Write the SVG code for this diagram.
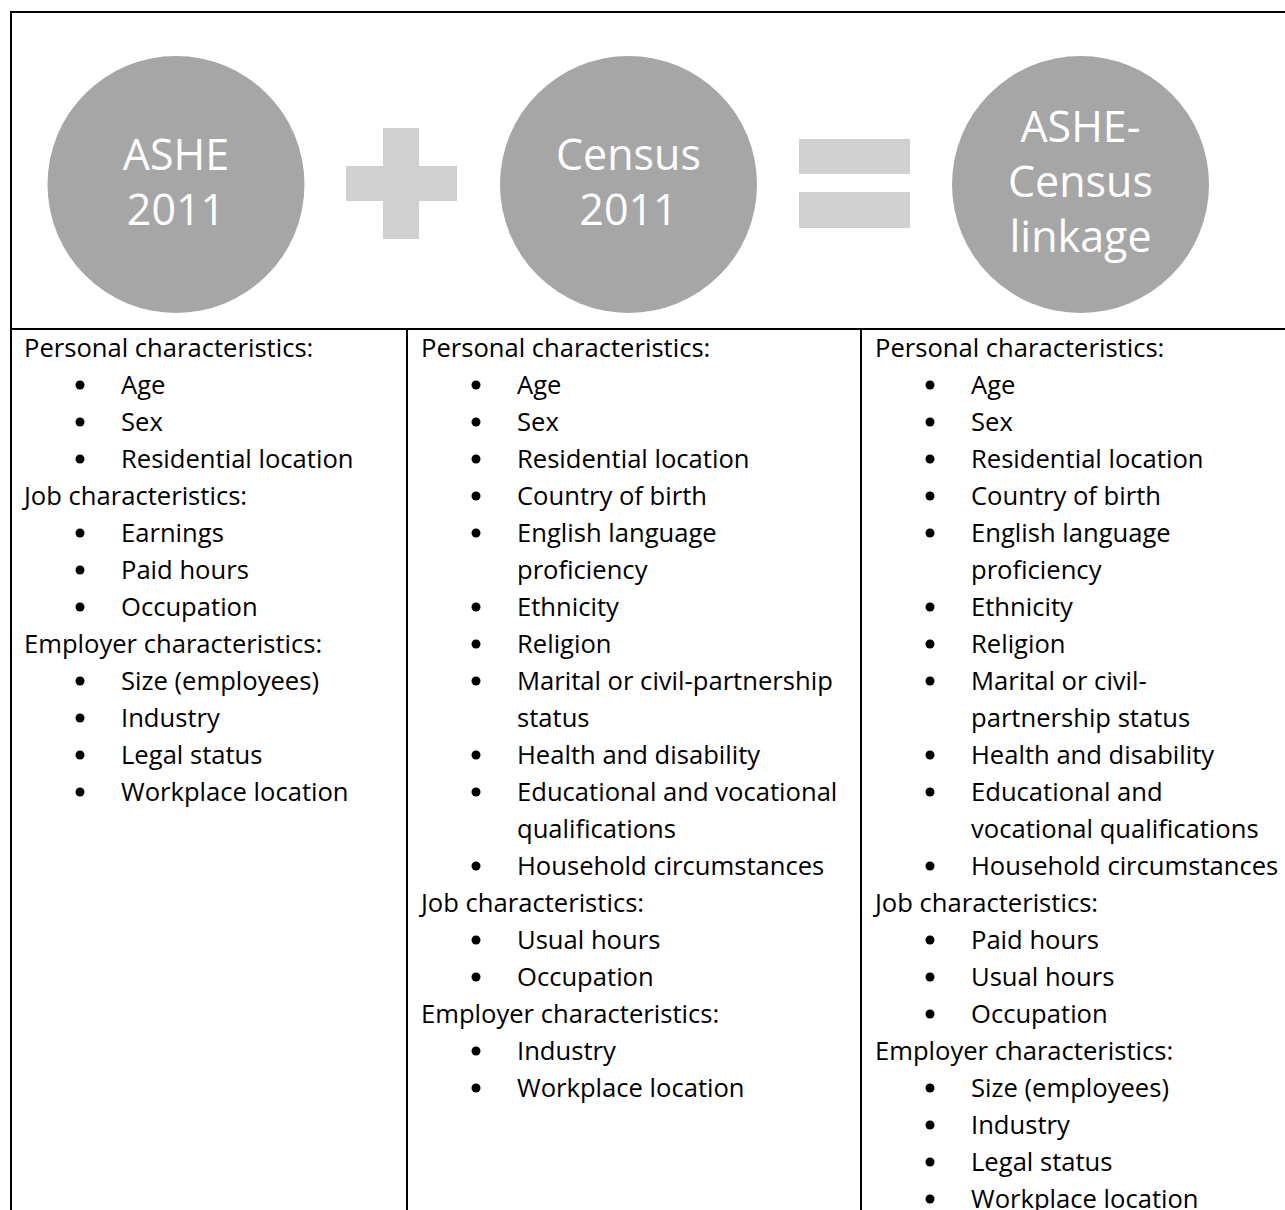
<svg xmlns="http://www.w3.org/2000/svg" width="1285" height="1210" viewBox="0 0 1285 1210">
<style>
.bg{fill:#ffffff}
.circle{fill:#a6a6a6}
.op{fill:#d0d0d0}
.ctext{font-family:"Open Sans","Noto Sans",sans-serif;font-size:43px;fill:#ffffff;text-anchor:middle}
.grid{stroke:#000000;stroke-width:2;fill:none}
.t{font-family:"Open Sans","Noto Sans",sans-serif;font-size:25.6px;fill:#000000}
.b{fill:#000000}
</style>
<rect class="bg" x="0" y="0" width="1285" height="1210"/>

<g id="grid">
  <line class="grid" x1="11" y1="12" x2="1290" y2="12"/>
  <line class="grid" x1="11" y1="11" x2="11" y2="1212"/>
  <line class="grid" x1="11" y1="329" x2="1290" y2="329"/>
  <line class="grid" x1="407" y1="329" x2="407" y2="1212"/>
  <line class="grid" x1="861" y1="329" x2="861" y2="1212"/>
</g>

<g id="node-ashe">
  <circle class="circle" cx="176" cy="184.5" r="128.5"/>
  <text class="ctext" x="176" y="170">ASHE</text>
  <text class="ctext" x="176" y="225">2011</text>
</g>

<g id="node-plus">
  <rect class="op" x="346" y="166" width="111" height="35"/>
  <rect class="op" x="383" y="128" width="36" height="111"/>
</g>

<g id="node-census">
  <circle class="circle" cx="628.5" cy="184.5" r="128.5"/>
  <text class="ctext" x="628.5" y="170">Census</text>
  <text class="ctext" x="628.5" y="225">2011</text>
</g>

<g id="node-equals">
  <rect class="op" x="799" y="139" width="111" height="35"/>
  <rect class="op" x="799" y="192" width="111" height="36"/>
</g>

<g id="node-linkage">
  <circle class="circle" cx="1080.5" cy="184.5" r="128.5"/>
  <text class="ctext" x="1080.5" y="142">ASHE-</text>
  <text class="ctext" x="1080.5" y="197">Census</text>
  <text class="ctext" x="1080.5" y="252">linkage</text>
</g>

<g id="col-ashe">
  <text class="t" x="24" y="357">Personal characteristics:</text>
  <circle class="b" cx="80" cy="385" r="4.5"/><text class="t" x="121" y="394">Age</text>
  <circle class="b" cx="80" cy="422" r="4.5"/><text class="t" x="121" y="431">Sex</text>
  <circle class="b" cx="80" cy="459" r="4.5"/><text class="t" x="121" y="468">Residential location</text>
  <text class="t" x="24" y="505">Job characteristics:</text>
  <circle class="b" cx="80" cy="533" r="4.5"/><text class="t" x="121" y="542">Earnings</text>
  <circle class="b" cx="80" cy="570" r="4.5"/><text class="t" x="121" y="579">Paid hours</text>
  <circle class="b" cx="80" cy="607" r="4.5"/><text class="t" x="121" y="616">Occupation</text>
  <text class="t" x="24" y="653">Employer characteristics:</text>
  <circle class="b" cx="80" cy="681" r="4.5"/><text class="t" x="121" y="690">Size (employees)</text>
  <circle class="b" cx="80" cy="718" r="4.5"/><text class="t" x="121" y="727">Industry</text>
  <circle class="b" cx="80" cy="755" r="4.5"/><text class="t" x="121" y="764">Legal status</text>
  <circle class="b" cx="80" cy="792" r="4.5"/><text class="t" x="121" y="801">Workplace location</text>
</g>

<g id="col-census">
  <text class="t" x="421" y="357">Personal characteristics:</text>
  <circle class="b" cx="476" cy="385" r="4.5"/><text class="t" x="517" y="394">Age</text>
  <circle class="b" cx="476" cy="422" r="4.5"/><text class="t" x="517" y="431">Sex</text>
  <circle class="b" cx="476" cy="459" r="4.5"/><text class="t" x="517" y="468">Residential location</text>
  <circle class="b" cx="476" cy="496" r="4.5"/><text class="t" x="517" y="505">Country of birth</text>
  <circle class="b" cx="476" cy="533" r="4.5"/><text class="t" x="517" y="542">English language</text>
  <text class="t" x="517" y="579">proficiency</text>
  <circle class="b" cx="476" cy="607" r="4.5"/><text class="t" x="517" y="616">Ethnicity</text>
  <circle class="b" cx="476" cy="644" r="4.5"/><text class="t" x="517" y="653">Religion</text>
  <circle class="b" cx="476" cy="681" r="4.5"/><text class="t" x="517" y="690">Marital or civil-partnership</text>
  <text class="t" x="517" y="727">status</text>
  <circle class="b" cx="476" cy="755" r="4.5"/><text class="t" x="517" y="764">Health and disability</text>
  <circle class="b" cx="476" cy="792" r="4.5"/><text class="t" x="517" y="801">Educational and vocational</text>
  <text class="t" x="517" y="838">qualifications</text>
  <circle class="b" cx="476" cy="866" r="4.5"/><text class="t" x="517" y="875">Household circumstances</text>
  <text class="t" x="421" y="912">Job characteristics:</text>
  <circle class="b" cx="476" cy="940" r="4.5"/><text class="t" x="517" y="949">Usual hours</text>
  <circle class="b" cx="476" cy="977" r="4.5"/><text class="t" x="517" y="986">Occupation</text>
  <text class="t" x="421" y="1023">Employer characteristics:</text>
  <circle class="b" cx="476" cy="1051" r="4.5"/><text class="t" x="517" y="1060">Industry</text>
  <circle class="b" cx="476" cy="1088" r="4.5"/><text class="t" x="517" y="1097">Workplace location</text>
</g>

<g id="col-linkage">
  <text class="t" x="875" y="357">Personal characteristics:</text>
  <circle class="b" cx="930" cy="385" r="4.5"/><text class="t" x="971" y="394">Age</text>
  <circle class="b" cx="930" cy="422" r="4.5"/><text class="t" x="971" y="431">Sex</text>
  <circle class="b" cx="930" cy="459" r="4.5"/><text class="t" x="971" y="468">Residential location</text>
  <circle class="b" cx="930" cy="496" r="4.5"/><text class="t" x="971" y="505">Country of birth</text>
  <circle class="b" cx="930" cy="533" r="4.5"/><text class="t" x="971" y="542">English language</text>
  <text class="t" x="971" y="579">proficiency</text>
  <circle class="b" cx="930" cy="607" r="4.5"/><text class="t" x="971" y="616">Ethnicity</text>
  <circle class="b" cx="930" cy="644" r="4.5"/><text class="t" x="971" y="653">Religion</text>
  <circle class="b" cx="930" cy="681" r="4.5"/><text class="t" x="971" y="690">Marital or civil-</text>
  <text class="t" x="971" y="727">partnership status</text>
  <circle class="b" cx="930" cy="755" r="4.5"/><text class="t" x="971" y="764">Health and disability</text>
  <circle class="b" cx="930" cy="792" r="4.5"/><text class="t" x="971" y="801">Educational and</text>
  <text class="t" x="971" y="838">vocational qualifications</text>
  <circle class="b" cx="930" cy="866" r="4.5"/><text class="t" x="971" y="875">Household circumstances</text>
  <text class="t" x="875" y="912">Job characteristics:</text>
  <circle class="b" cx="930" cy="940" r="4.5"/><text class="t" x="971" y="949">Paid hours</text>
  <circle class="b" cx="930" cy="977" r="4.5"/><text class="t" x="971" y="986">Usual hours</text>
  <circle class="b" cx="930" cy="1014" r="4.5"/><text class="t" x="971" y="1023">Occupation</text>
  <text class="t" x="875" y="1060">Employer characteristics:</text>
  <circle class="b" cx="930" cy="1088" r="4.5"/><text class="t" x="971" y="1097">Size (employees)</text>
  <circle class="b" cx="930" cy="1125" r="4.5"/><text class="t" x="971" y="1134">Industry</text>
  <circle class="b" cx="930" cy="1162" r="4.5"/><text class="t" x="971" y="1171">Legal status</text>
  <circle class="b" cx="930" cy="1199" r="4.5"/><text class="t" x="971" y="1208">Workplace location</text>
</g>
</svg>
